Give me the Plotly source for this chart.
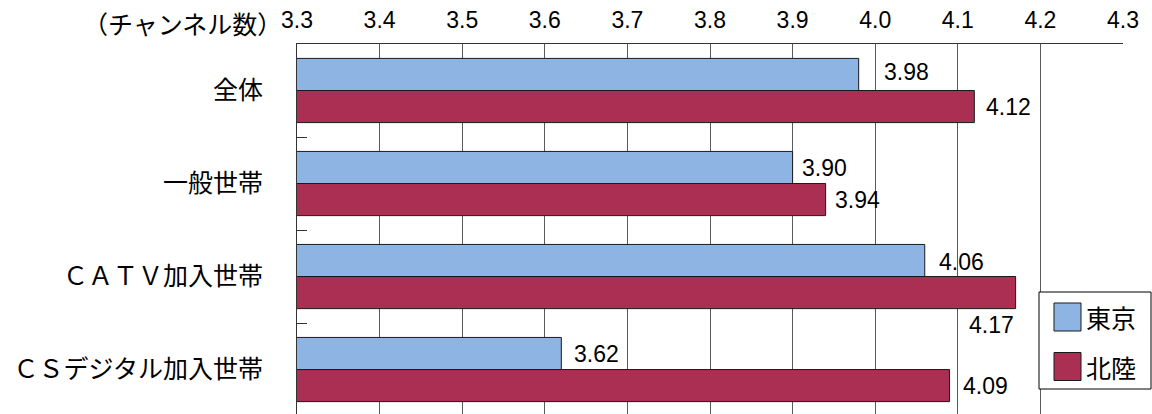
import plotly.graph_objects as go

# Average number of channels watched, by household type
categories = ["全体", "一般世帯", "ＣＡＴＶ加入世帯", "ＣＳデジタル加入世帯"]
series_names = ["東京", "北陸"]
tokyo = [3.98, 3.90, 4.06, 3.62]
hokuriku = [4.12, 3.94, 4.17, 4.09]
tick_values = [3.3, 3.4, 3.5, 3.6, 3.7, 3.8, 3.9, 4.0, 4.1, 4.2, 4.3]

colors = ["#8DB4E2", "#AA2F52"]

W, H = 1152, 414
L, R, T, B = 297, 29, 44, 0
PW, PH = W - L - R, H - T - B

jp_font = "Noto Sans CJK JP"
num_font = "Liberation Sans, Arial, sans-serif"


def px(x):
    return (x - L) / PW


def py(y):
    return 1 - (y - T) / PH


fig = go.Figure()
for name, vals, col in zip(series_names, [tokyo, hokuriku], colors):
    fig.add_trace(go.Bar(
        name=name, y=categories, x=vals, orientation="h",
        marker=dict(color=col, line=dict(color="#1a1a1a", width=1)),
        showlegend=False,
    ))

# value labels: (xanchor, xshift, yshift) per bar
label_place = [
    [("left", 23, 19), ("left", 7, 16), ("left", 12, 15), ("left", 11, 16)],
    [("left", 10, -16), ("left", 7, -16), ("right", 0, -48), ("left", 11, -16)],
]
annotations = []
for vals, places in zip([tokyo, hokuriku], label_place):
    for cat, v, (anchor, xs, ys) in zip(categories, vals, places):
        annotations.append(dict(
            x=v, y=cat, xref="x", yref="y", text=f"{v:.2f}", showarrow=False,
            xanchor=anchor, yanchor="middle", xshift=xs, yshift=ys,
            font=dict(family=num_font, size=23, color="#000"),
        ))

# axis unit caption
annotations.append(dict(
    x=px(284), y=py(23), xref="paper", yref="paper", text="（チャンネル数）",
    showarrow=False, xanchor="right", yanchor="middle",
    font=dict(family=jp_font, size=25, color="#000"),
))

# legend box drawn with shapes
shapes = [dict(
    type="rect", xref="paper", yref="paper",
    x0=px(1039), x1=px(1151), y0=py(389), y1=py(292),
    line=dict(color="#000", width=1), fillcolor="#fff", layer="above",
)]
for i, (name, col) in enumerate(zip(series_names, colors)):
    top = 303 + i * 49.5
    shapes.append(dict(
        type="rect", xref="paper", yref="paper",
        x0=px(1054), x1=px(1081), y0=py(top + 28), y1=py(top),
        line=dict(color="#1a1a1a", width=1), fillcolor=col, layer="above",
    ))
    annotations.append(dict(
        x=px(1084), y=py(top + 14), xref="paper", yref="paper", text=name,
        showarrow=False, xanchor="left", yanchor="middle",
        font=dict(family=jp_font, size=25, color="#000"),
    ))

fig.update_layout(
    width=W, height=H,
    margin=dict(l=L, r=R, t=T, b=B, pad=0),
    paper_bgcolor="#fff", plot_bgcolor="#fff",
    barmode="group", bargap=0.31, bargroupgap=0,
    annotations=annotations, shapes=shapes,
    showlegend=False,
)
fig.update_xaxes(
    range=[3.3, 4.3], side="top", tickvals=tick_values,
    ticktext=[f"{t:.1f}" for t in tick_values],
    showgrid=True, gridcolor="#5a5a5a", gridwidth=1,
    showline=True, linecolor="#333", linewidth=1,
    ticks="", zeroline=False, ticklabelstandoff=6,
    tickfont=dict(family=num_font, size=23, color="#000"),
)
fig.update_yaxes(
    range=[3.478, -0.5], type="category",
    showline=True, linecolor="#333", linewidth=1,
    ticks="inside", tickson="boundaries", ticklen=10, tickcolor="#333",
    showgrid=False, zeroline=False, ticklabelstandoff=28,
    tickfont=dict(family=jp_font, size=25, color="#000"),
)

fig.write_html("out.html")
